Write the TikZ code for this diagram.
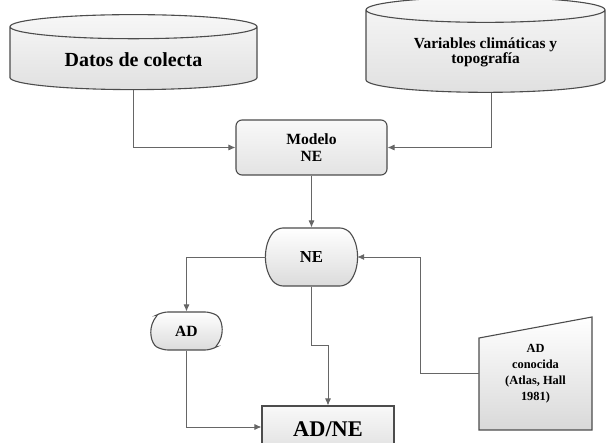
\documentclass[tikz,border=0pt]{standalone}
\usepackage{fontspec}
\setmainfont{Liberation Serif}
\usetikzlibrary{shapes.geometric,shapes.misc,arrows.meta}

\begin{document}
\begin{tikzpicture}[x=0.5pt, y=-0.5pt,
  base/.style={draw=black!70, line width=0.55pt, align=center, inner sep=1pt},
  cyl/.style={base, cylinder, shape border rotate=90, aspect=0.17, top color=gray!6, bottom color=gray!24},
  proc/.style={base, rectangle, rounded corners=3pt, top color=gray!5, bottom color=gray!22},
  term/.style={base, rounded rectangle, rounded corners=3pt, top color=white, bottom color=gray!28},
  conn/.style={draw=black!60, thin, -{Latex[length=3.5pt, width=3pt]}}
]
  \clip (0,0) rectangle (606,443);
  \node[cyl, minimum width=123.5pt, minimum height=37.5pt, font=\bfseries\fontsize{10}{12}\selectfont] (datos) at (133.5,59.5) {Datos de colecta};
  \node[cyl, minimum width=119.5pt, minimum height=47.5pt, font=\bfseries\fontsize{7.7}{7.8}\selectfont] (clima) at (485.5,52.5) {Variables climáticas y\\topografía};
  \node[proc, minimum width=75.5pt, minimum height=27.5pt, font=\bfseries\fontsize{7.8}{8.5}\selectfont] (modelo) at (311.5,147.5) {Modelo\\NE};
  \node[term, rounded rectangle arc length=80, minimum width=38.5pt, minimum height=29pt, font=\bfseries\fontsize{8.4}{10}\selectfont] (ne) at (311.5,257) {NE};
  \node[term, rounded rectangle arc length=120, minimum width=37.5pt, minimum height=19pt, font=\bfseries\fontsize{7.8}{9}\selectfont] (ad) at (186.5,331) {AD};
  \node[base, rectangle, top color=gray!5, bottom color=gray!24, minimum width=66pt, minimum height=23pt, font=\bfseries\fontsize{11.2}{13}\selectfont] (adne) at (328,429) {AD/NE};
  \draw[base, top color=white, bottom color=gray!30] (479,338) -- (592,317) -- (592,430) -- (479,430) -- cycle;
  \node[align=center, inner sep=1pt, minimum width=56.5pt, minimum height=56.5pt, font=\bfseries\fontsize{6.2}{8}\selectfont] (adcon) at (535.5,373.5) {AD\\conocida\\(Atlas, Hall\\1981)};
  \draw[conn] (datos.south) |- (modelo.west);
  \draw[conn] ([xshift=2.75pt]clima.south) |- (modelo.east);
  \draw[conn] (modelo.south) -- (ne.north);
  \draw[conn] (ne.west) -| (ad.north);
  \draw[conn] (adcon.west) -| ([xshift=31.5pt]ne.east) -- (ne.east);
  \draw[conn] (ne.south) -- ++(0,59) -| (adne.north);
  \draw[conn] (ad.south) |- ([yshift=1pt]adne.west);
\end{tikzpicture}
\end{document}
